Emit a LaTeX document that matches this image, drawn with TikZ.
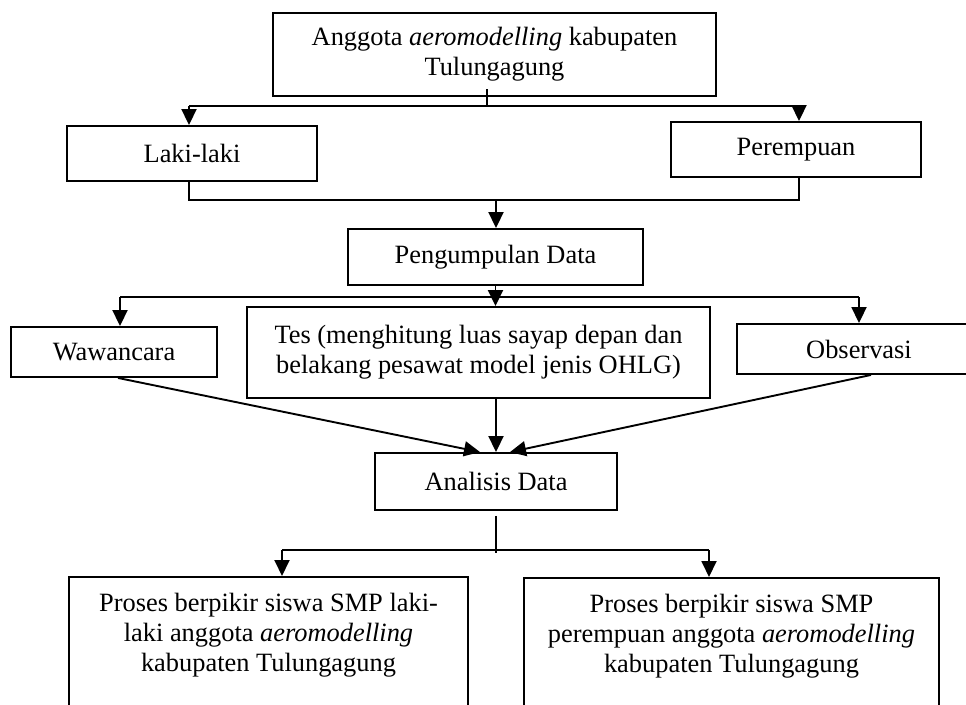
\documentclass[tikz,border=0pt]{standalone}
\usepackage{fontspec}
\setmainfont{Liberation Serif}
\usetikzlibrary{arrows.meta}

\begin{document}
\begin{tikzpicture}[x=1pt, y=-1pt,
    font=\fontsize{26.4}{30}\selectfont,
    kotak/.style={draw, line width=1.9pt, align=center, inner sep=0pt},
    conn/.style={line width=1.9pt},
    thinline/.style={line width=1.1pt},
    panah/.style={-{Triangle[length=16pt,width=15pt]}, line width=1.9pt}]
        \useasboundingbox (0,0) rectangle (966,704);
        \clip (0,0) rectangle (966,704);
        \node[kotak, minimum width=443pt, minimum height=83pt] (top) at (494.5,54.5) {Anggota \textit{aeromodelling} kabupaten\\Tulungagung};
        \node[kotak, minimum width=250pt, minimum height=55pt] (laki) at (192,153.5) {Laki-laki};
        \node[kotak, minimum width=250pt, minimum height=55pt] (perempuan) at (796,149.5) {Perempuan};
        \node[kotak, minimum width=295pt, minimum height=56pt] (kumpul) at (495.5,257) {Pengumpulan Data};
        \node[kotak, minimum width=206pt, minimum height=50pt] (wawancara) at (114,352) {Wawancara};
        \node[kotak, minimum width=463pt, minimum height=91pt] (tes) at (478.5,352.5) {Tes (menghitung luas sayap depan dan\\belakang pesawat model jenis OHLG)};
        \node[kotak, minimum width=244pt, minimum height=50pt] (observasi) at (859,349) {Observasi};
        \node[kotak, minimum width=242pt, minimum height=57pt] (analisis) at (496,481.5) {Analisis Data};
        \node[kotak, anchor=north, minimum width=399pt, inner ysep=16pt, text depth=140pt] (hasilL) at (268.5,576) {Proses berpikir siswa SMP laki-\\laki anggota \textit{aeromodelling}\\kabupaten Tulungagung};
        \node[kotak, anchor=north, minimum width=415pt, inner ysep=16pt, text depth=140pt] (hasilP) at (731.5,577) {Proses berpikir siswa SMP\\perempuan anggota \textit{aeromodelling}\\kabupaten Tulungagung};
        \coordinate (s1L) at (189,106); \coordinate (s1M) at (487,106); \coordinate (s1R) at (799,106);
        \coordinate (s2L) at (189,200); \coordinate (s2M) at (496,200); \coordinate (s2R) at (799,200);
        \coordinate (s3L) at (120,297); \coordinate (s3R) at (859,297);
        \coordinate (s4L) at (282,550); \coordinate (s4M) at (496,550); \coordinate (s4R) at (709,550);
        \draw[thinline] ([yshift=17pt]s1M) -- ([yshift=-1pt]s1M);
        \draw[conn] (s1L) -- (s1R);
        \draw[panah] (s1L) -- (s1L |- laki.north);
        \draw[panah] (s1R) -- (s1R |- perempuan.north);
        \draw[conn] (s2L |- laki.south) -- (s2L) -- (s2R) -- (s2R |- perempuan.south);
        \draw[panah] (s2M) -- (s2M |- kumpul.north);
        \draw[conn] (s3L) -- (s3R);
        \draw[panah] (kumpul.south) -- (kumpul.south |- tes.north);
        \draw[panah] (s3L) -- (s3L |- wawancara.north);
        \draw[panah] (s3R) -- (s3R |- observasi.north);
        \draw[panah] ([xshift=4pt]wawancara.south) -- ([xshift=-16pt]analisis.north);
        \draw[panah] (analisis.north |- tes.south) -- (analisis.north);
        \draw[panah] ([xshift=12pt]observasi.south) -- ([xshift=14pt]analisis.north);
        \draw[thinline] ([yshift=-5pt]analisis.south) -- ([yshift=-3pt]s4M);
        \draw[conn] (s4L) -- (s4R);
        \draw[panah] (s4L) -- (s4L |- hasilL.north);
        \draw[panah] (s4R) -- (s4R |- hasilP.north);
    \end{tikzpicture}
\end{document}
